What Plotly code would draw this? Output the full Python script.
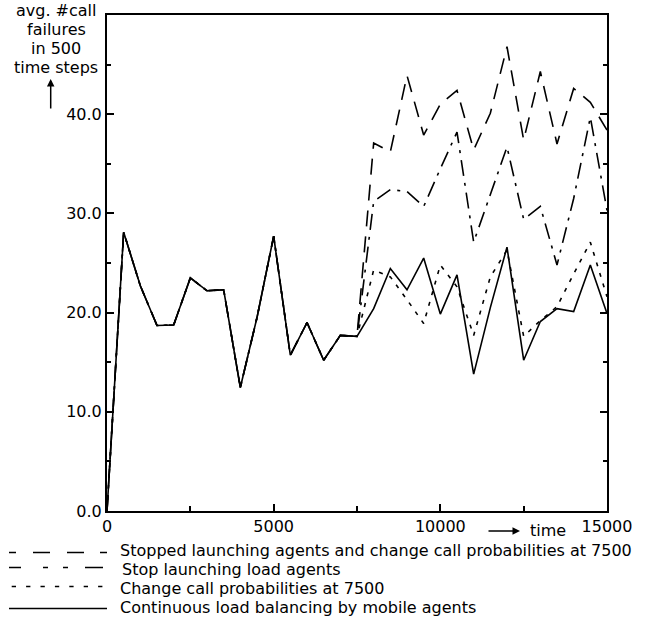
import plotly.graph_objects as go

# ---------------- data ----------------
time_steps = [i * 500 for i in range(31)]

# common part (0 .. 7500)
common = [0.0, 28.1, 22.7, 18.7, 18.75, 23.5, 22.2, 22.3, 12.45, 19.5,
          27.7, 15.7, 19.0, 15.2, 17.7, 17.6]

# after 7500 (8000 .. 15000)
stopped_and_change_tail = [37.1, 36.2, 43.9, 37.9, 41.0, 42.4, 36.4, 40.1,
                           46.8, 37.4, 44.3, 37.0, 42.6, 41.2, 38.4]
stop_launching_tail = [31.2, 32.4, 32.2, 30.7, 34.5, 38.2, 27.1, 31.9,
                       36.7, 29.4, 30.7, 24.8, 31.5, 39.7, 30.3]
change_prob_tail = [24.3, 23.6, 21.3, 18.9, 24.8, 22.6, 17.7, 23.6,
                    26.3, 17.6, 19.2, 20.6, 23.9, 27.1, 21.6]
continuous_tail = [20.4, 24.45, 22.3, 25.5, 19.85, 23.8, 13.8, 20.5,
                   26.6, 15.2, 19.1, 20.4, 20.1, 24.8, 19.9]

series_names = [
    "Stopped launching agents and change call probabilities at 7500",
    "Stop launching load agents",
    "Change call probabilities at 7500",
    "Continuous load balancing by mobile agents",
]
series_tails = [stopped_and_change_tail, stop_launching_tail,
                change_prob_tail, continuous_tail]
series_dash = ["16px,10px", "16px,7px,3px,7px", "4px,7px", "solid"]

x_tickvals = [0, 5000, 10000, 15000]
x_ticktext = ["0", "5000", "10000", "15000"]
x_minor = [2500, 7500, 12500]
y_tickvals = [0, 10, 20, 30, 40]
y_ticktext = ["0.0", "10.0", "20.0", "30.0", "40.0"]
y_minor = [5, 15, 25, 35, 45]

title_lines = ["avg. #call", "failures", "in 500", "time steps"]

# ---------------- layout helpers ----------------
W, H = 659, 617
L, R, T, B = 107, 607, 15, 511  # plot area in pixels
FONT = "DejaVu Sans, Liberation Sans, Arial, sans-serif"
FS = 16


def px(xp):
    return (xp - L) / (R - L)


def py(yp):
    return (B - yp) / (B - T)


fig = go.Figure()
for name, tail, dash in zip(series_names, series_tails, series_dash):
    fig.add_trace(go.Scatter(
        x=time_steps, y=common + tail, mode="lines", name=name,
        line=dict(color="black", width=1.6, dash=dash),
        showlegend=False, hoverinfo="skip"))

annotations = []
shapes = []

# y-axis title lines
title_centers = [10.5, 29.5, 48.5, 67.5]
for txt, yc in zip(title_lines, title_centers):
    annotations.append(dict(text=txt, x=px(56), y=py(yc), xref="paper", yref="paper",
                            xanchor="center", yanchor="middle", showarrow=False,
                            font=dict(family=FONT, size=FS, color="black")))
# up arrow
annotations.append(dict(text="", x=px(50.7), y=py(79), xref="paper", yref="paper",
                        ax=0, ay=31, showarrow=True, arrowhead=2, arrowsize=1,
                        arrowwidth=1.5, arrowcolor="black"))
# time arrow + label
annotations.append(dict(text="", x=px(520), y=py(531), xref="paper", yref="paper",
                        ax=-33, ay=0, showarrow=True, arrowhead=2, arrowsize=1,
                        arrowwidth=1.5, arrowcolor="black"))
annotations.append(dict(text="time", x=px(528), y=py(530), xref="paper", yref="paper",
                        xanchor="left", yanchor="middle", showarrow=False,
                        font=dict(family=FONT, size=FS, color="black")))

# legend (drawn manually)
leg_line_y = [552.5, 567.5, 586.5, 608.5]
leg_text_y = [550.8, 569.6, 588.4, 607.2]
leg_text_x = [118, 120, 118, 118]
leg_dash = ["7px,17px,17px,17px,17px,16px,17px",
            "12px,22px,5px,15px,5px,17px,18px",
            "0px,2.7px,4.3px,7.4px",
            "solid"]
for name, ly, ty, tx, dash in zip(series_names, leg_line_y, leg_text_y, leg_text_x, leg_dash):
    shapes.append(dict(type="line", xref="paper", yref="paper",
                       x0=px(9), x1=px(107), y0=py(ly), y1=py(ly),
                       line=dict(color="black", width=1.6, dash=dash)))
    annotations.append(dict(text=name, x=px(tx), y=py(ty), xref="paper", yref="paper",
                            xanchor="left", yanchor="middle", showarrow=False,
                            font=dict(family=FONT, size=FS, color="black")))

fig.update_layout(
    width=W, height=H,
    margin=dict(l=L, r=W - R, t=T, b=H - B),
    paper_bgcolor="white", plot_bgcolor="white",
    font=dict(family=FONT, size=FS, color="black"),
    showlegend=False,
    annotations=annotations,
    shapes=shapes,
    xaxis=dict(range=[0, 15000], showline=True, linecolor="black", linewidth=2,
               mirror=True, ticks="inside", ticklen=7, tickwidth=1.5, tickcolor="black",
               tickmode="array", tickvals=x_tickvals, ticktext=x_ticktext,
               minor=dict(ticks="inside", ticklen=5, tickwidth=1.5, tickcolor="black",
                          tickmode="array", tickvals=x_minor),
               showgrid=False, zeroline=False,
               tickfont=dict(family=FONT, size=FS, color="black")),
    yaxis=dict(range=[0, 50], showline=True, linecolor="black", linewidth=2,
               mirror="ticks", ticks="inside", ticklen=7, tickwidth=1.5, tickcolor="black",
               tickmode="array", tickvals=y_tickvals, ticktext=y_ticktext,
               minor=dict(ticks="inside", ticklen=4, tickwidth=1.5, tickcolor="black",
                          tickmode="array", tickvals=y_minor),
               showgrid=False, zeroline=False,
               tickfont=dict(family=FONT, size=FS, color="black")),
)

fig.write_html("out.html")
